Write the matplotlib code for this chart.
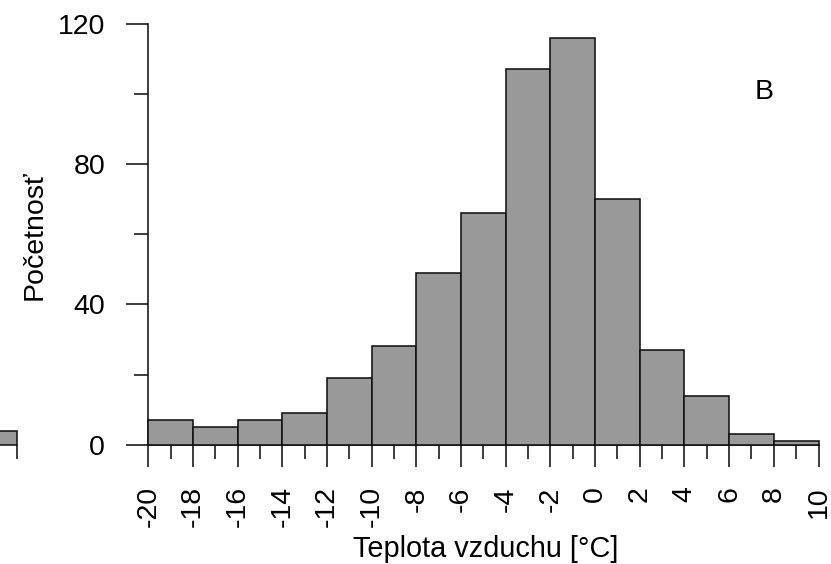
import numpy as np
import matplotlib
matplotlib.use('Agg')
import matplotlib.pyplot as plt

plt.rcParams['font.family'] = ['Liberation Sans', 'DejaVu Sans']

# histogram B: bins of 2 degC from -20 to 10
bin_edges = list(range(-20, 11, 2))
counts = [7, 5, 7, 9, 19, 28, 49, 66, 107, 116, 70, 27, 14, 3, 1]

# last bar of the neighbouring panel (cut off at the left edge)
neighbor_edges = [8, 10]
neighbor_counts = [4]

x_major = list(range(-20, 11, 2))
x_minor = list(range(-19, 10, 2))
y_major = [0, 40, 80, 120]
y_minor = [20, 60, 100]

W, H = 831, 564
fig = plt.figure(figsize=(W / 100, H / 100), dpi=100)

# axes placed in pixels
x0, x1 = 148.3, 818.5
y0, y1 = 444.7, 23.7
ax = fig.add_axes([x0 / W, 1 - y0 / H, (x1 - x0) / W, (y0 - y1) / H])

bar_color = '#999999'
edge = '#111111'
lw = 1.15

lefts = np.array(bin_edges[:-1])
widths = np.diff(bin_edges)
ax.bar(lefts, counts, width=widths, align='edge', color=bar_color,
       edgecolor=edge, linewidth=lw, clip_on=False, zorder=3)

ax.set_xlim(-20, 10)
ax.set_ylim(0, 120)

for s in ['top', 'right']:
    ax.spines[s].set_visible(False)
for s in ['left', 'bottom']:
    ax.spines[s].set_linewidth(lw)
    ax.spines[s].set_color(edge)

ax.set_xticks(x_major)
ax.set_xticks(x_minor, minor=True)
ax.set_yticks(y_major)
ax.set_yticks(y_minor, minor=True)
ax.set_xticklabels([str(v) for v in x_major], rotation=90)

ax.tick_params(axis='both', which='major', length=16, width=lw, color=edge,
               labelsize=20.5, pad=14)
ax.tick_params(axis='both', which='minor', length=10, width=lw, color=edge)
ax.tick_params(axis='y', which='major', pad=15)

ax.text(7.58, 98.6, 'B', ha='center', va='baseline', fontsize=20.5)

fig.text(486 / W, 1 - 557 / H, 'Teplota vzduchu [°C]', ha='center',
         va='baseline', fontsize=20.8)
fig.text(42 / W, 1 - 235 / H, 'Početnosť', ha='center', va='baseline',
         rotation=90, rotation_mode='anchor', fontsize=20.5)

# neighbouring panel, only its right end is visible
nx1 = 17.3
nx0 = nx1 - (x1 - x0)
ax0 = fig.add_axes([nx0 / W, 1 - y0 / H, (x1 - x0) / W, (y0 - y1) / H])
ax0.bar(neighbor_edges[0], neighbor_counts, width=np.diff(neighbor_edges),
        align='edge', color=bar_color, edgecolor=edge, linewidth=lw,
        clip_on=False)
ax0.set_xlim(-20, 10)
ax0.set_ylim(0, 120)
for s in ax0.spines.values():
    s.set_visible(False)
ax0.set_xticks([10])
ax0.set_xticklabels([''])
ax0.set_yticks([])
ax0.tick_params(axis='x', length=10, width=lw, color=edge)

fig.savefig('out.png', dpi=100)
